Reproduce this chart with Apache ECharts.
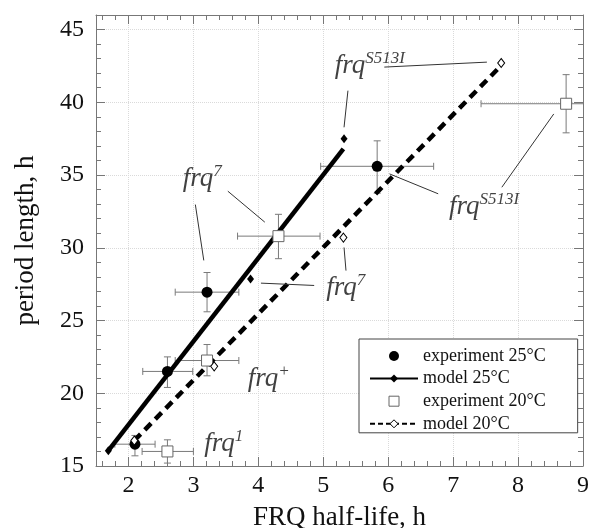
<!DOCTYPE html>
<html>
<head>
<meta charset="utf-8">
<script src="https://cdn.jsdelivr.net/npm/echarts@6/dist/echarts.min.js"></script>
<style>
  html, body { margin: 0; background: #fff; }
  #chart { width: 592px; height: 528px; }
</style>
</head>
<body>
<div id="chart"></div>
<script>
// experiments: [x, y, xLow, xHigh, yLow, yHigh]
const exp25 = [
  [2.10, 16.5, 1.79, 2.41, 15.7, 17.1],
  [2.60, 21.5, 2.22, 2.99, 20.4, 22.5],
  [3.21, 26.95, 2.72, 3.70, 25.6, 28.3],
  [5.83, 35.6, 4.96, 6.70, 33.75, 37.35]
];
const exp20 = [
  [2.60, 16.0, 2.21, 3.00, 15.2, 16.8],
  [3.21, 22.25, 2.72, 3.70, 21.2, 23.35],
  [4.31, 30.8, 3.68, 4.95, 29.25, 32.3],
  [8.74, 39.9, 7.43, 10.05, 37.9, 41.9]
];
// model points and fitted model lines
const model25Pts = [[1.69, 16.05], [3.88, 27.85], [5.32, 37.5]];
const model25Line = [[1.69, 16.05], [5.31, 36.8]];
const model20Pts = [[2.09, 16.75], [3.32, 21.85], [5.31, 30.7], [7.74, 42.7]];
const model20Line = [[2.09, 16.75], [7.69, 42.3]];

// strain labels: [text, superscript, x, y]
const notes = [
  ['frq', 'S513I', 5.17, 42.49],
  ['frq', 'S513I', 6.93, 32.80],
  ['frq', '7', 2.83, 34.70],
  ['frq', '7', 5.04, 27.26],
  ['frq', '+', 3.83, 20.97],
  ['frq', '1', 3.16, 16.50]
];
// leader lines: [x1, y1, x2, y2]
const leaders = [
  [5.94, 42.42, 7.52, 42.76],
  [5.38, 40.80, 5.32, 38.28],
  [7.75, 34.16, 8.55, 39.20],
  [6.02, 35.08, 6.77, 33.71],
  [3.53, 33.89, 4.10, 31.76],
  [3.03, 32.97, 3.16, 29.13],
  [4.04, 27.57, 4.86, 27.41],
  [5.32, 30.02, 5.35, 28.43]
];

const xTicks = [2, 3, 4, 5, 6, 7, 8, 9];
const yTicks = [15, 20, 25, 30, 35, 40, 45];
const xMinor = [];
for (let v = 16; v <= 90; v += 2) xMinor.push(v / 10);
const yMinor = [];
for (let v = 16; v <= 46; v++) yMinor.push(v);

const serif = 'Liberation Serif';
const axisGrey = '#777';

function xAxis(position, ticks, len, main) {
  return {
    type: 'value', position: position, min: 1.5, max: 9, splitNumber: 7,
    axisLine: { show: !!main, onZero: false, lineStyle: { color: axisGrey } },
    axisTick: { show: true, inside: true, length: len, customValues: ticks, lineStyle: { color: axisGrey } },
    axisLabel: {
      show: main === 'label', customValues: xTicks, margin: 8,
      fontFamily: serif, fontSize: 24, color: '#111'
    },
    splitLine: { show: main === 'label', lineStyle: { color: '#dadada', type: 'dotted' } },
    name: main === 'label' ? 'FRQ half-life, h' : '',
    nameLocation: 'middle', nameGap: 38,
    nameTextStyle: { fontFamily: serif, fontSize: 27, color: '#111' }
  };
}
function yAxis(position, ticks, len, main) {
  return {
    type: 'value', position: position, min: 15, max: 46, splitNumber: 6,
    axisLine: { show: !!main, onZero: false, lineStyle: { color: axisGrey } },
    axisTick: { show: true, inside: true, length: len, customValues: ticks, lineStyle: { color: axisGrey } },
    axisLabel: {
      show: main === 'label', customValues: yTicks, margin: 12, padding: [0, 0, 6, 0],
      fontFamily: serif, fontSize: 24, color: '#111'
    },
    splitLine: { show: main === 'label', lineStyle: { color: '#dadada', type: 'dotted' } },
    name: main === 'label' ? 'period length, h' : '',
    nameLocation: 'middle', nameGap: 57,
    nameTextStyle: { fontFamily: serif, fontSize: 27, color: '#111' }
  };
}

function renderErr(params, api) {
  const x = api.value(0), y = api.value(1);
  const c = api.coord([x, y]);
  const l = api.coord([api.value(2), y]);
  const r = api.coord([api.value(3), y]);
  const b = api.coord([x, api.value(4)]);
  const t = api.coord([x, api.value(5)]);
  const cap = 3.5;
  const style = { stroke: '#7a7a7a', lineWidth: 1 };
  const seg = (x1, y1, x2, y2) => ({ type: 'line', shape: { x1, y1, x2, y2 }, style });
  return {
    type: 'group',
    children: [
      seg(l[0], c[1], r[0], c[1]),
      seg(l[0], c[1] - cap, l[0], c[1] + cap),
      seg(r[0], c[1] - cap, r[0], c[1] + cap),
      seg(c[0], b[1], c[0], t[1]),
      seg(c[0] - cap, b[1], c[0] + cap, b[1]),
      seg(c[0] - cap, t[1], c[0] + cap, t[1])
    ]
  };
}

function renderLeader(params, api) {
  const p1 = api.coord([api.value(0), api.value(1)]);
  const p2 = api.coord([api.value(2), api.value(3)]);
  return {
    type: 'line',
    shape: { x1: p1[0], y1: p1[1], x2: p2[0], y2: p2[1] },
    style: { stroke: '#333', lineWidth: 1 }
  };
}

const chart = echarts.init(document.getElementById('chart'));

const option = {
  animation: false,
  grid: { left: 96, right: 9, top: 15, bottom: 62, outerBoundsMode: 'none' },
  xAxis: [
    xAxis('bottom', xTicks, 9, 'label'),
    xAxis('bottom', xMinor, 5, false),
    xAxis('top', xTicks, 9, 'line'),
    xAxis('top', xMinor, 5, false)
  ],
  yAxis: [
    yAxis('left', yTicks, 9, 'label'),
    yAxis('left', yMinor, 5, false),
    yAxis('right', yTicks, 9, 'line'),
    yAxis('right', yMinor, 5, false)
  ],
  legend: {
    orient: 'vertical', left: 359, top: 339,
    padding: [8, 32, 0, 10],
    itemWidth: 48, itemHeight: 10, itemGap: 4.6, itemTextGap: 4,
    borderColor: '#444', borderWidth: 1, backgroundColor: '#fff',
    selectedMode: false,
    textStyle: { fontFamily: serif, fontSize: 18, color: '#111' },
    data: [
      { name: 'experiment 25°C' },
      { name: 'model 25°C' },
      { name: 'experiment 20°C', icon: 'path://M0,0L8,0L8,8L0,8Z', itemStyle: { borderWidth: 1 } },
      { name: 'model 20°C', itemStyle: { borderWidth: 1 }, lineStyle: { type: [5, 3] } }
    ]
  },
  series: [
    {
      type: 'custom', name: 'errors', renderItem: renderErr, clip: true, silent: true, z: 1,
      data: exp25.concat(exp20), encode: { x: [0, 2, 3], y: [1, 4, 5] }
    },
    {
      type: 'line', name: 'model 25°C', data: model25Line, showSymbol: false,
      symbol: 'diamond', z: 2, silent: true,
      lineStyle: { color: '#000', width: 4.5 }, itemStyle: { color: '#000' }
    },
    {
      type: 'line', name: 'model 20°C', data: model20Line, showSymbol: false,
      symbol: 'diamond', z: 2, silent: true,
      lineStyle: { color: '#000', width: 4.5, type: [9, 6] },
      itemStyle: { color: '#fff', borderColor: '#000', borderWidth: 1 }
    },
    {
      type: 'custom', name: 'leaders', renderItem: renderLeader, silent: true, z: 3,
      data: leaders, encode: { x: [0, 2], y: [1, 3] }
    },
    {
      type: 'scatter', name: 'experiment 25°C', symbol: 'circle', symbolSize: 11, z: 4,
      data: exp25.map(d => [d[0], d[1]]), itemStyle: { color: '#000', opacity: 1 }
    },
    {
      type: 'scatter', name: 'experiment 20°C', symbol: 'rect', symbolSize: 11, z: 4,
      data: exp20.map(d => [d[0], d[1]]),
      itemStyle: { color: '#fff', borderColor: '#666', borderWidth: 1, opacity: 1 }
    },
    {
      type: 'scatter', name: 'model 25°C', symbol: 'diamond', symbolSize: [7, 9], z: 4,
      data: model25Pts, itemStyle: { color: '#000', opacity: 1 }
    },
    {
      type: 'scatter', name: 'model 20°C', symbol: 'diamond', symbolSize: [7, 9], z: 4,
      data: model20Pts, itemStyle: { color: '#fff', borderColor: '#000', borderWidth: 1, opacity: 1 }
    },
    {
      type: 'scatter', name: 'notes', symbolSize: 1, z: 5, silent: true,
      itemStyle: { color: 'transparent' },
      label: {
        show: true, position: 'right', distance: 0,
        rich: {
          a: { fontFamily: serif, fontStyle: 'italic', fontSize: 27, lineHeight: 32, color: '#111' },
          b: { fontFamily: serif, fontStyle: 'italic', fontSize: 17, lineHeight: 17, verticalAlign: 'top', color: '#111' }
        }
      },
      data: notes.map(n => ({
        value: [n[2], n[3]],
        label: { formatter: '{a|' + n[0] + '}{b|' + n[1] + '}' }
      }))
    }
  ]
};

chart.setOption(option);
</script>
</body>
</html>
